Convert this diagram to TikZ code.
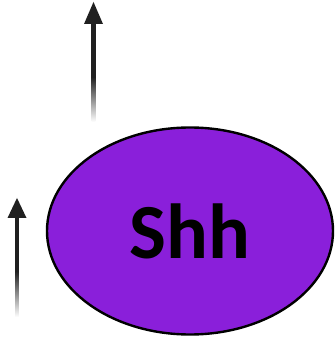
\documentclass[tikz,border=0pt]{standalone}
\usepackage{fontspec}
\setmainfont{Carlito}
\usetikzlibrary{shapes.geometric}
\definecolor{shhpurple}{RGB}{138,31,218}
\definecolor{arrowgray}{RGB}{32,32,32}
% shaft that fades out towards its tail (bottom)
\pgfdeclareverticalshading{tailfade}{100bp}{color(0bp)=(white); color(25bp)=(white); color(48bp)=(arrowgray); color(75bp)=(arrowgray); color(100bp)=(arrowgray)}
\tikzset{
  gene/.style={ellipse, draw=black, line width=2.4pt, fill=shhpurple,
    minimum width=286pt, minimum height=207pt, inner sep=0pt,
    font=\bfseries\fontsize{78}{78}\selectfont},
  shaft/.style={shading=tailfade},
  head/.style={fill=arrowgray}
}
\begin{document}
\begin{tikzpicture}[x=1pt,y=1pt]
  \useasboundingbox (0,0) rectangle (335,337);
  \node[gene] (shh) at (190,106) {Shh};
  % upper arrow
  \coordinate (a1tail) at (93.5,215);
  \coordinate (a1base) at (93.5,313);
  \coordinate (a1tip) at (93.5,335);
  \shade[shaft] ([xshift=-1.8pt]a1tail) rectangle ([xshift=1.8pt]a1base);
  \fill[head] (a1tip) -- ([xshift=-9.5pt]a1base) -- ([xshift=9.5pt]a1base) -- cycle;
  % lower arrow
  \coordinate (a2tail) at (17,20);
  \coordinate (a2base) at (17,119);
  \coordinate (a2tip) at (17,139);
  \shade[shaft] ([xshift=-1.8pt]a2tail) rectangle ([xshift=1.8pt]a2base);
  \fill[head] (a2tip) -- ([xshift=-9.5pt]a2base) -- ([xshift=9.5pt]a2base) -- cycle;
\end{tikzpicture}
\end{document}
